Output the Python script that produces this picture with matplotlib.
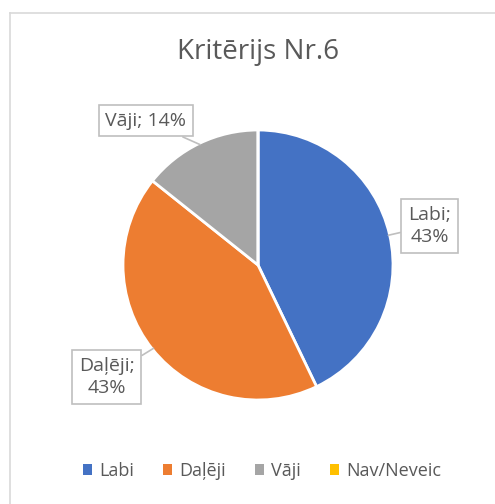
import numpy as np
import matplotlib
matplotlib.use("Agg")
import matplotlib.pyplot as plt
from matplotlib.lines import Line2D
from matplotlib.patches import Patch

title = "Kritērijs Nr.6"
categories = ["Labi", "Daļēji", "Vāji", "Nav/Neveic"]
values = [3, 3, 1, 0]
colors = ["#4472C4", "#ED7D31", "#A5A5A5", "#FFC000"]

plt.rcParams['font.family'] = ['Open Sans', 'DejaVu Sans']
W, H = 495, 504
fig = plt.figure(figsize=(W / 100, H / 100), dpi=100)

# chart border (top and left visible)
fig.add_artist(Line2D([10 / W, 1], [1 - 12.5 / H, 1 - 12.5 / H], color="#d9d9d9", lw=1.2))
fig.add_artist(Line2D([10 / W, 10 / W], [0, 1 - 12.5 / H], color="#d9d9d9", lw=1.2))

fig.text(258 / W, 1 - 52 / H, title, ha="center", va="center", fontsize=20, color="#595959")

cx, cy, r = 258, 265, 135
ax = fig.add_axes([(cx - r) / W, (H - cy - r) / H, 2 * r / W, 2 * r / H])
wedges, _ = ax.pie(values, colors=colors, startangle=90, counterclock=False,
                   wedgeprops=dict(edgecolor="white", linewidth=2))
ax.set_xlim(-1, 1)
ax.set_ylim(-1, 1)
ax.set_aspect("equal")
ax.axis("off")

total = sum(values)
label_pos = {0: (1.27, 0.29), 1: (-1.12, -0.83), 2: (-0.83, 1.07)}
texts = {0: "{};\n{:.0%}", 1: "{};\n{:.0%}", 2: "{}; {:.0%}"}
for i, (cat, v) in enumerate(zip(categories, values)):
    if v == 0:
        continue
    w = wedges[i]
    mid = np.deg2rad((w.theta1 + w.theta2) / 2)
    px, py = 0.99 * np.cos(mid), 0.99 * np.sin(mid)
    tx, ty = label_pos[i]
    ax.annotate(texts[i].format(cat, v / total), xy=(px, py), xytext=(tx, ty),
                ha="center", va="center", fontsize=14, color="#595959",
                linespacing=1.3, annotation_clip=False,
                bbox=dict(boxstyle="square,pad=0.35", fc="white", ec="#bfbfbf", lw=1.2),
                arrowprops=dict(arrowstyle="-", color="#bfbfbf", lw=1.2,
                                shrinkA=0, shrinkB=0))

handles = [Patch(facecolor=c, edgecolor="none") for c in colors]
fig.legend(handles, categories, loc="center", bbox_to_anchor=(262 / W, 1 - 471 / H),
           ncol=4, frameon=False, fontsize=13, labelcolor="#595959",
           handlelength=0.5, handleheight=0.5, handletextpad=0.4, columnspacing=1.6)

fig.savefig("out.png", dpi=100)
